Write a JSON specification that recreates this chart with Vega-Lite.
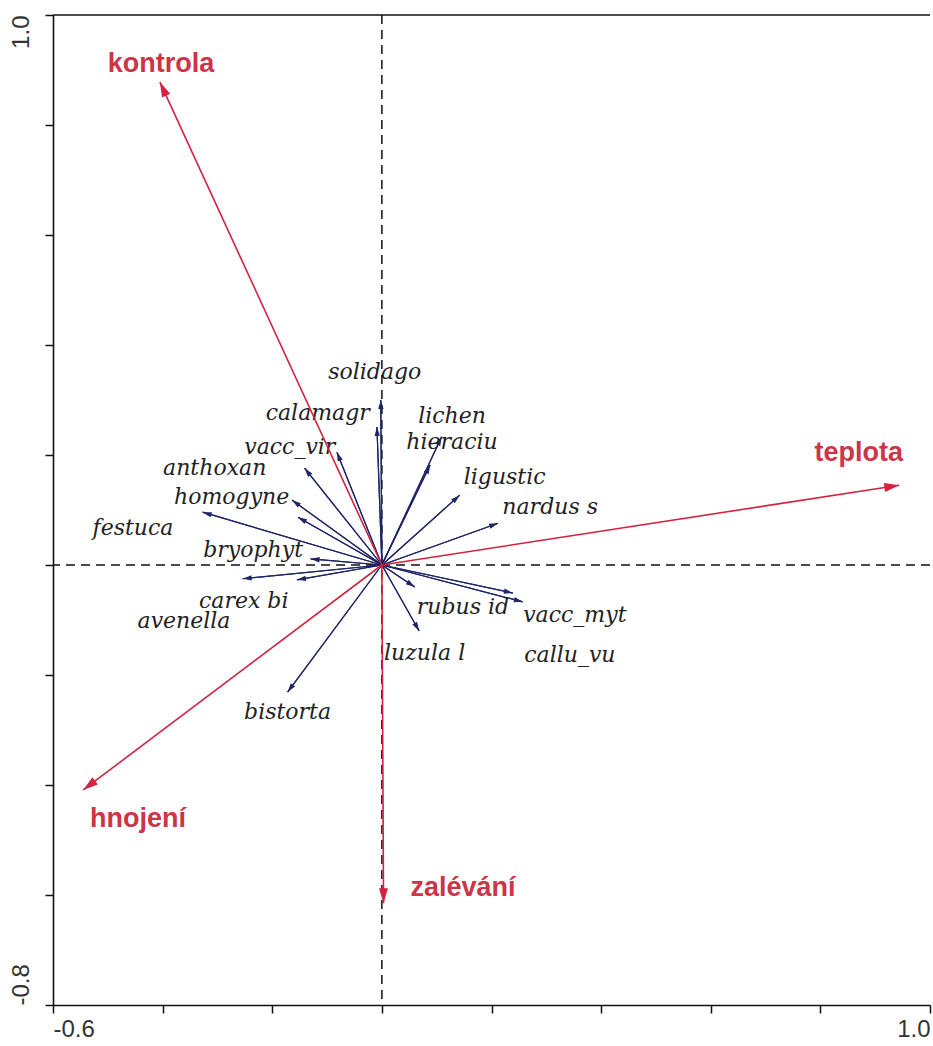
{
  "$schema": "https://vega.github.io/schema/vega-lite/v6.json",
  "width": 877,
  "height": 990,
  "autosize": "none",
  "padding": {"left": 53, "top": 15, "right": 3, "bottom": 41},
  "background": "white",
  "config": {
    "view": {"stroke": null},
    "axis": {"grid": false, "title": null}
  },
  "datasets": {
    "species": [
      {"name": "solidago", "x": -0.002, "y": 0.30, "lx": -0.013, "ly": 0.351},
      {"name": "calamagr", "x": -0.009, "y": 0.251, "lx": -0.117, "ly": 0.276},
      {"name": "lichen", "x": 0.109, "y": 0.233, "lx": 0.128, "ly": 0.271},
      {"name": "hieraciu", "x": 0.088, "y": 0.182, "lx": 0.128, "ly": 0.224},
      {"name": "vacc_vir", "x": -0.082, "y": 0.205, "lx": -0.168, "ly": 0.215},
      {"name": "anthoxan", "x": -0.141, "y": 0.176, "lx": -0.305, "ly": 0.176},
      {"name": "homogyne", "x": -0.164, "y": 0.118, "lx": -0.274, "ly": 0.124},
      {"name": "", "x": -0.153, "y": 0.087, "lx": -0.153, "ly": 0.087},
      {"name": "festuca", "x": -0.327, "y": 0.096, "lx": -0.454, "ly": 0.067},
      {"name": "bryophyt", "x": -0.130, "y": 0.011, "lx": -0.235, "ly": 0.027},
      {"name": "avenella", "x": -0.254, "y": -0.025, "lx": -0.361, "ly": -0.102},
      {"name": "carex bi", "x": -0.155, "y": -0.027, "lx": -0.252, "ly": -0.066},
      {"name": "bistorta", "x": -0.172, "y": -0.231, "lx": -0.172, "ly": -0.267},
      {"name": "ligustic", "x": 0.142, "y": 0.127, "lx": 0.224, "ly": 0.160},
      {"name": "nardus s", "x": 0.212, "y": 0.076, "lx": 0.307, "ly": 0.105},
      {"name": "rubus id", "x": 0.060, "y": -0.040, "lx": 0.148, "ly": -0.076},
      {"name": "luzula l", "x": 0.068, "y": -0.120, "lx": 0.078, "ly": -0.160},
      {"name": "vacc_myt", "x": 0.239, "y": -0.051, "lx": 0.352, "ly": -0.091},
      {"name": "callu_vu", "x": 0.257, "y": -0.067, "lx": 0.343, "ly": -0.164}
    ],
    "env": [
      {"name": "kontrola", "x": -0.405, "y": 0.878, "lx": -0.403, "ly": 0.911},
      {"name": "teplota", "x": 0.944, "y": 0.145, "lx": 0.870, "ly": 0.204},
      {"name": "hnojení", "x": -0.545, "y": -0.409, "lx": -0.445, "ly": -0.462},
      {"name": "zalévání", "x": 0.003, "y": -0.615, "lx": 0.148, "ly": -0.587}
    ]
  },
  "layer": [
    {
      "data": {"name": "species"},
      "mark": {"type": "rule", "color": "#1e2566", "strokeWidth": 1.2},
      "encoding": {
        "x": {
          "field": "x",
          "type": "quantitative",
          "scale": {"domain": [-0.6, 1.0], "nice": false, "zero": false},
          "axis": {
            "values": [-0.6, -0.4, -0.2, 0, 0.2, 0.4, 0.6, 0.8, 1.0],
            "labelExpr": "abs(datum.value + 0.6) < 1e-6 || abs(datum.value - 1) < 1e-6 ? replace(format(datum.value, '.1f'), '\u2212', '-') : ''",
            "labelFlush": true,
            "labelFont": "Liberation Sans",
            "labelFontSize": 24,
            "labelColor": "#333333",
            "labelPadding": 4,
            "domainColor": "#111111",
            "domainWidth": 1.6,
            "tickColor": "#111111",
            "tickWidth": 1.5,
            "tickSize": 8
          }
        },
        "y": {
          "field": "y",
          "type": "quantitative",
          "scale": {"domain": [-0.8, 1.0], "nice": false, "zero": false},
          "axis": {
            "values": [-0.8, -0.6, -0.4, -0.2, 0, 0.2, 0.4, 0.6, 0.8, 1.0],
            "labelExpr": "abs(datum.value + 0.8) < 1e-6 || abs(datum.value - 1) < 1e-6 ? replace(format(datum.value, '.1f'), '\u2212', '-') : ''",
            "labelAngle": -90,
            "labelAlign": {"condition": {"test": "datum.value > 0", "value": "right"}, "value": "left"},
            "labelBaseline": "bottom",
            "labelFont": "Liberation Sans",
            "labelFontSize": 24,
            "labelColor": "#333333",
            "labelPadding": 12,
            "domainColor": "#111111",
            "domainWidth": 1.6,
            "tickColor": "#111111",
            "tickWidth": 1.5,
            "tickSize": 8
          }
        },
        "x2": {"datum": 0},
        "y2": {"datum": 0}
      }
    },
    {
      "data": {"values": [{"pos": 0}]},
      "mark": {"type": "rule", "color": "#111111", "strokeWidth": 1.5, "strokeDash": [9, 6]},
      "encoding": {"x": {"field": "pos", "type": "quantitative"}}
    },
    {
      "data": {"values": [{"pos": 0}]},
      "mark": {"type": "rule", "color": "#111111", "strokeWidth": 1.5, "strokeDash": [9, 6]},
      "encoding": {"y": {"field": "pos", "type": "quantitative"}}
    },
    {
      "data": {"values": [{"pos": 1.0}]},
      "mark": {"type": "rule", "color": "#111111", "strokeWidth": 1.6},
      "encoding": {"y": {"field": "pos", "type": "quantitative"}}
    },
    {
      "data": {"name": "species"},
      "mark": {"type": "rule", "color": "#1e2566", "strokeWidth": 1.2},
      "encoding": {
        "x": {"field": "x", "type": "quantitative"},
        "y": {"field": "y", "type": "quantitative"},
        "x2": {"datum": 0},
        "y2": {"datum": 0}
      }
    },
    {
      "data": {"name": "species"},
      "transform": [{"calculate": "atan2(datum.x, datum.y) * 180 / PI", "as": "ang"}],
      "mark": {"type": "point", "shape": "M0,0L0.6,2L-0.6,2Z", "filled": true, "color": "#1e2566", "size": 81, "opacity": 1, "strokeWidth": 0},
      "encoding": {
        "x": {"field": "x", "type": "quantitative"},
        "y": {"field": "y", "type": "quantitative"},
        "angle": {"field": "ang", "type": "quantitative", "scale": null}
      }
    },
    {
      "data": {"name": "species"},
      "mark": {"type": "text", "font": "DejaVu Serif", "fontStyle": "italic", "fontSize": 22, "color": "#222222", "align": "center", "baseline": "middle"},
      "encoding": {
        "x": {"field": "lx", "type": "quantitative"},
        "y": {"field": "ly", "type": "quantitative"},
        "text": {"field": "name"}
      }
    },
    {
      "data": {"name": "env"},
      "mark": {"type": "rule", "color": "#d42240", "strokeWidth": 1.6},
      "encoding": {
        "x": {"field": "x", "type": "quantitative"},
        "y": {"field": "y", "type": "quantitative"},
        "x2": {"datum": 0},
        "y2": {"datum": 0}
      }
    },
    {
      "data": {"name": "env"},
      "transform": [{"calculate": "atan2(datum.x, datum.y) * 180 / PI", "as": "ang"}],
      "mark": {"type": "point", "shape": "M0,0L0.6,2L-0.6,2Z", "filled": true, "color": "#d42240", "size": 225, "opacity": 1, "strokeWidth": 0},
      "encoding": {
        "x": {"field": "x", "type": "quantitative"},
        "y": {"field": "y", "type": "quantitative"},
        "angle": {"field": "ang", "type": "quantitative", "scale": null}
      }
    },
    {
      "data": {"name": "env"},
      "mark": {"type": "text", "font": "Liberation Sans", "fontWeight": "bold", "fontSize": 27, "color": "#cc3447", "align": "center", "baseline": "middle"},
      "encoding": {
        "x": {"field": "lx", "type": "quantitative"},
        "y": {"field": "ly", "type": "quantitative"},
        "text": {"field": "name"}
      }
    }
  ]
}
